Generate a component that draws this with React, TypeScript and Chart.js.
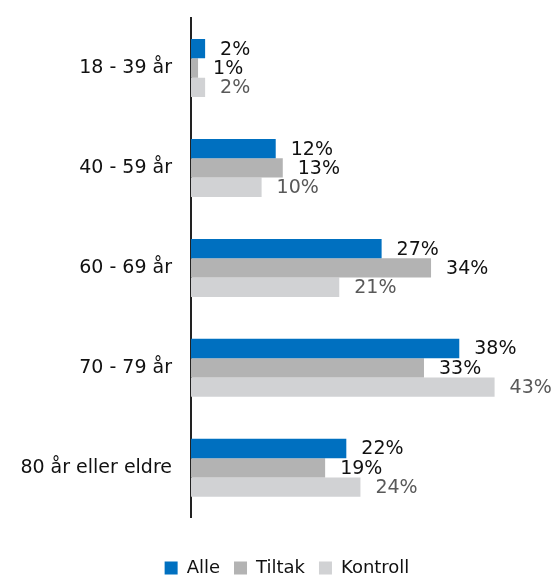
import React, { useEffect, useRef } from "react";
import { Chart, registerables } from "chart.js";

Chart.register(...registerables);

const categories = ["18 - 39 år", "40 - 59 år", "60 - 69 år", "70 - 79 år", "80 år eller eldre"];
const alle = [2, 12, 27, 38, 22];
const tiltak = [1, 13, 34, 33, 19];
const kontroll = [2, 10, 21, 43, 24];
const seriesNames = ["Alle", "Tiltak", "Kontroll"];
const colors = ["#0070C0", "#B3B3B3", "#D1D2D4"];
const labelColors = ["#111111", "#111111", "#595959"];

const FONT = "'DejaVu Sans', sans-serif";

const valueLabels = {
  id: "valueLabels",
  afterDatasetsDraw(chart: any) {
    const ctx = chart.ctx;
    ctx.save();
    ctx.font = `19px ${FONT}`;
    ctx.textBaseline = "middle";
    ctx.textAlign = "left";
    chart.data.datasets.forEach((ds: any, i: number) => {
      const meta = chart.getDatasetMeta(i);
      meta.data.forEach((bar: any, j: number) => {
        ctx.fillStyle = labelColors[i];
        ctx.fillText(ds.data[j] + "%", bar.x + 15, bar.y + 1);
      });
    });
    ctx.restore();
  },
};

const legendShift = {
  id: "legendShift",
  afterLayout(chart: any) {
    if (chart.legend) {
      chart.legend.left += 15;
      chart.legend.right += 15;
    }
  },
};

export default function App() {
  const ref = useRef<HTMLCanvasElement>(null);
  useEffect(() => {
    document.body.style.margin = "0";
    const chart = new Chart(ref.current!, {
      type: "bar",
      data: {
        labels: categories,
        datasets: [alle, tiltak, kontroll].map((d, i) => ({
          label: seriesNames[i],
          data: d,
          backgroundColor: colors[i],
          borderWidth: 0,
          barPercentage: 1,
          categoryPercentage: 0.58,
        })),
      },
      options: {
        indexAxis: "y",
        responsive: false,
        animation: false,
        layout: { padding: { left: 0, right: 13, top: 18, bottom: -10 } },
        plugins: {
          tooltip: { enabled: false },
          legend: {
            position: "bottom",
            title: { display: true, text: " ", font: { size: 12 }, padding: 6.4 },
            labels: {
              font: { family: FONT, size: 18 },
              color: "#111",
              boxWidth: 13,
              boxHeight: 13,
              padding: 14,
            },
          },
        },
        scales: {
          x: { display: false, min: 0, max: 50 },
          y: {
            grid: {
              display: true,
              drawOnChartArea: false,
              drawTicks: true,
              tickLength: 19,
              color: "rgba(0,0,0,0)",
            },
            border: { display: true, color: "#222", width: 2 },
            ticks: { font: { family: FONT, size: 19 }, color: "#111", padding: 0 },
            afterFit: (s: any) => {
              s.width = 191;
            },
          },
        },
      },
      plugins: [valueLabels, legendShift],
    });
    return () => chart.destroy();
  }, []);
  return <canvas ref={ref} width={557} height={577} />;
}
